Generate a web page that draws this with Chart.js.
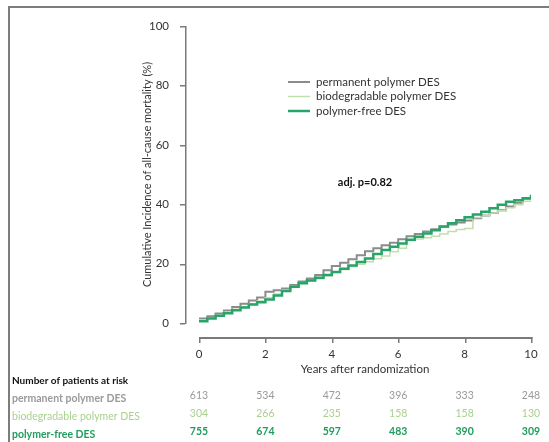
<!DOCTYPE html>
<html>
<head>
<meta charset="utf-8">
<script src="https://cdn.jsdelivr.net/npm/chart.js@4"></script>
<style>
  html, body { margin: 0; padding: 0; background: #fff; }
  #wrap { width: 549px; height: 442px; }
</style>
</head>
<body>
<div id="wrap"><canvas id="kmChart" width="549" height="442"></canvas></div>
<script>
// cumulative incidence (%) read every 0.25 years
const years = [0, 0.25, 0.5, 0.75, 1, 1.25, 1.5, 1.75, 2, 2.25, 2.5, 2.75, 3, 3.25, 3.5, 3.75, 4, 4.25, 4.5, 4.75, 5,
  5.25, 5.5, 5.75, 6, 6.25, 6.5, 6.75, 7, 7.25, 7.5, 7.75, 8, 8.25, 8.5, 8.75, 9, 9.25, 9.5, 9.75, 10];
const permanent = [1.5, 2.3, 3.2, 4.2, 5.4, 6.5, 7.6, 8.6, 10.5, 11.0, 11.6, 12.8, 14.0, 15.0, 16.2, 17.8, 19.2, 20.3, 21.5, 22.8, 24.2,
  25.2, 26.2, 27.0, 28.2, 29.2, 30.0, 30.8, 31.6, 32.4, 33.2, 33.8, 34.5, 35.3, 36.2, 37.0, 38.0, 39.2, 40.5, 41.8, 43.0];
const biodegradable = [0.8, 1.6, 2.6, 3.6, 4.6, 5.5, 6.5, 7.4, 8.5, 9.8, 11.2, 12.4, 13.5, 14.2, 14.9, 15.9, 17.0, 18.0, 19.0, 19.8, 20.6,
  21.6, 22.6, 24.0, 25.2, 27.8, 28.3, 28.7, 29.2, 30.0, 30.8, 31.5, 31.8, 35.5, 36.3, 37.0, 37.8, 38.8, 39.8, 41.0, 41.8];
const polymerFree = [0.6, 1.5, 2.4, 3.3, 4.3, 5.2, 6.2, 7.0, 7.9, 9.3, 10.8, 12.2, 13.4, 14.3, 15.2, 16.2, 17.2, 18.3, 19.4, 20.5, 21.7,
  23.2, 24.6, 25.7, 26.8, 28.0, 29.0, 30.1, 31.2, 32.5, 33.6, 34.6, 35.6, 36.5, 37.5, 38.6, 39.8, 40.8, 41.3, 42.0, 43.2];

const seriesNames = ["permanent polymer DES", "biodegradable polymer DES", "polymer-free DES"];
const lineColors = ["#8c8c8c", "#c2deae", "#27a468"];
const textColors = ["#9a9a9a", "#a9d18e", "#1f9d5c"];

// number at risk
const riskYears = [0, 2, 4, 6, 8, 10];
const riskPermanent = [613, 534, 472, 396, 333, 248];
const riskBiodegradable = [304, 266, 235, 158, 158, 130];
const riskPolymerFree = [755, 674, 597, 483, 390, 309];

const yTickValues = [0, 20, 40, 60, 80, 100];

const FONT = "Lato, 'Open Sans', sans-serif";

function toPoints(vals) {
  return years.map((x, i) => ({ x: x, y: vals[i] }));
}

// R style detached axes, legend, p-value, risk table, frame
const extras = {
  id: "extras",
  beforeDraw(chart) {
    const ctx = chart.ctx;
    ctx.save();
    ctx.fillStyle = "#7d7d7d";
    ctx.fillRect(8, 6, 2, 436);
    ctx.fillRect(8, 6, 541, 2);
    ctx.restore();
  },
  afterDraw(chart) {
    const ctx = chart.ctx;
    const xs = chart.scales.x, ys = chart.scales.y;
    ctx.save();

    const x0 = Math.round(xs.getPixelForValue(0));
    const x10 = Math.round(xs.getPixelForValue(10));
    const y0 = Math.round(ys.getPixelForValue(0));
    const y100 = Math.round(ys.getPixelForValue(100));

    ctx.fillStyle = "#7a7a7a";
    // y axis, 14px left of the plot
    const ax = x0 - 14;
    ctx.fillRect(ax, y100, 1.5, y0 - y100 + 1);
    yTickValues.forEach(v => {
      ctx.fillRect(ax - 5, Math.round(ys.getPixelForValue(v)), 5, 1.5);
    });

    // x axis, 14px below the plot
    const ay = y0 + 14;
    ctx.fillRect(x0, ay, x10 - x0 + 1.5, 2);
    riskYears.forEach(v => {
      ctx.fillRect(Math.round(xs.getPixelForValue(v)), ay, 1.5, 6);
    });

    // legend
    ctx.font = "11.5px " + FONT;
    ctx.textBaseline = "middle";
    ctx.textAlign = "left";
    chart.data.datasets.forEach((ds, i) => {
      const y = 82 + i * 14.5;
      ctx.strokeStyle = ds.borderColor;
      ctx.lineWidth = ds.borderWidth;
      ctx.beginPath();
      ctx.moveTo(288, y);
      ctx.lineTo(310, y);
      ctx.stroke();
      ctx.fillStyle = "#333";
      ctx.fillText(ds.label, 316, y);
    });

    // p value
    ctx.font = "bold 11px " + FONT;
    ctx.textAlign = "center";
    ctx.fillStyle = "#111";
    ctx.fillText("adj. p=0.82", 365, 182);

    // number at risk table
    ctx.textAlign = "left";
    ctx.font = "bold 10px " + FONT;
    ctx.fillStyle = "#111";
    ctx.fillText("Number of patients at risk", 12, 381);
    const rows = [riskPermanent, riskBiodegradable, riskPolymerFree];
    const rowY = [396, 414, 432];
    rows.forEach((vals, r) => {
      ctx.textAlign = "left";
      ctx.fillStyle = textColors[r];
      ctx.font = (r === 1 ? "" : "bold ") + "10.5px " + FONT;
      ctx.fillText(seriesNames[r], 12, rowY[r] + 3);
      ctx.textAlign = "center";
      ctx.font = (r === 2 ? "bold " : "") + "10.5px " + FONT;
      vals.forEach((v, k) => {
        ctx.fillText(String(v), xs.getPixelForValue(riskYears[k]), rowY[r]);
      });
    });
    ctx.restore();
  }
};

new Chart(document.getElementById("kmChart"), {
  type: "line",
  data: {
    datasets: [
      { label: seriesNames[0], data: toPoints(permanent), borderColor: lineColors[0], borderWidth: 2, stepped: true, pointRadius: 0, order: 2 },
      { label: seriesNames[1], data: toPoints(biodegradable), borderColor: lineColors[1], borderWidth: 1.5, stepped: true, pointRadius: 0, order: 1 },
      { label: seriesNames[2], data: toPoints(polymerFree), borderColor: lineColors[2], borderWidth: 2.5, stepped: true, pointRadius: 0, order: 0 }
    ]
  },
  options: {
    responsive: false,
    animation: false,
    layout: { padding: { left: 137, right: 18, top: 26, bottom: 62 } },
    plugins: { legend: { display: false }, tooltip: { enabled: false } },
    scales: {
      x: {
        type: "linear",
        min: 0, max: 10,
        grid: { display: false },
        border: { display: false },
        ticks: { stepSize: 2, padding: 16, color: "#333", font: { family: FONT, size: 11.5 } },
        title: { display: true, text: "Years after randomization", color: "#333", font: { family: FONT, size: 11.5 } },
        afterFit(scale) { scale.height = 57; scale.paddingLeft = 0; scale.paddingRight = 0; }
      },
      y: {
        min: 0, max: 100,
        grid: { display: false },
        border: { display: false },
        ticks: { stepSize: 20, padding: 22, color: "#333", font: { family: FONT, size: 11.5 } },
        title: { display: true, text: "Cumulative Incidence of all-cause mortality (%)", color: "#333", font: { family: FONT, size: 11 } },
        afterFit(scale) { scale.width = 62; scale.paddingTop = 0; scale.paddingBottom = 0; }
      }
    }
  },
  plugins: [extras]
});
</script>
</body>
</html>
